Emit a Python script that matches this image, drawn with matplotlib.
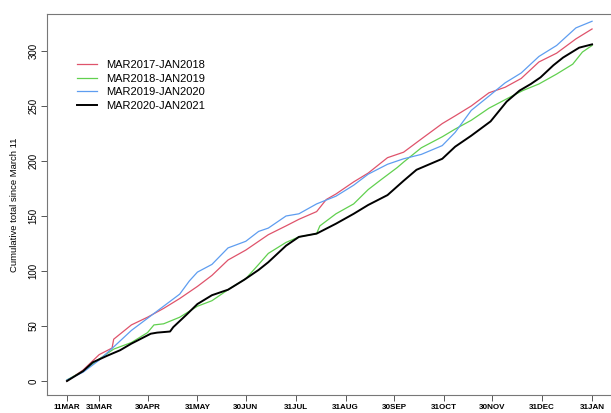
import matplotlib
matplotlib.use("Agg")
import matplotlib.pyplot as plt

plt.rcParams['font.family'] = ['Liberation Sans', 'DejaVu Sans']

# days since March 11 and cumulative totals
days_1718 = [0, 10, 20, 28, 29, 40, 50, 60, 70, 81, 90, 100, 111, 119, 125, 136, 144, 155, 161, 167,
             178, 187, 199, 209, 220, 233, 241, 251, 262, 272, 282, 293, 304, 316, 326]
vals_1718 = [0, 10, 24, 30, 38, 51, 58, 66, 75, 86, 96, 110, 119, 127, 133, 141, 147, 154, 165, 170,
             181, 189, 203, 208, 220, 234, 241, 250, 262, 267, 275, 290, 298, 311, 320]

days_1819 = [0, 10, 20, 29, 40, 50, 54, 60, 70, 81, 90, 100, 111, 119, 125, 136, 144, 155, 157, 167,
             178, 187, 195, 205, 209, 220, 233, 241, 251, 262, 275, 283, 293, 304, 314, 320, 326]
vals_1819 = [1, 9, 20, 29, 35, 44, 51, 52, 58, 68, 73, 83, 93, 106, 116, 126, 131, 134, 141, 152,
             161, 174, 183, 194, 199, 212, 222, 229, 237, 248, 258, 264, 270, 279, 288, 299, 305]

days_1920 = [0, 10, 20, 29, 40, 50, 60, 70, 76, 81, 90, 100, 111, 119, 125, 136, 144, 155, 167,
             178, 187, 199, 209, 220, 233, 241, 251, 262, 272, 282, 293, 304, 316, 326]
vals_1920 = [1, 8, 19, 31, 46, 57, 68, 79, 91, 99, 106, 121, 127, 136, 139, 150, 152, 161, 168,
             178, 188, 197, 202, 206, 214, 226, 246, 259, 271, 280, 295, 305, 321, 327]

days_2021 = [0, 10, 16, 25, 33, 40, 52, 56, 64, 66, 74, 81, 90, 100, 110, 119, 125, 136, 144, 155, 167,
             178, 187, 199, 209, 217, 233, 241, 251, 263, 273, 281, 288, 294, 302, 308, 318, 326]
vals_2021 = [0, 9, 17, 23, 28, 34, 43, 44, 45, 49, 60, 70, 78, 83, 92, 101, 108, 123, 131, 134, 143,
             152, 160, 169, 182, 192, 202, 213, 223, 236, 254, 264, 270, 276, 287, 294, 303, 306]

tick_days = [0, 20, 50, 81, 111, 142, 173, 203, 234, 264, 295, 326]
tick_labels = ['11MAR', '31MAR', '30APR', '31MAY', '30JUN', '31JUL',
               '31AUG', '30SEP', '31OCT', '30NOV', '31DEC', '31JAN']

fig = plt.figure(figsize=(6.11, 4.13), dpi=100)
ax = fig.add_axes([47 / 611, 18 / 413, 566 / 611, 381 / 413])

ax.plot(days_1718, vals_1718, color='#DF536B', lw=0.9, label='MAR2017-JAN2018')
ax.plot(days_1819, vals_1819, color='#61D04F', lw=0.9, label='MAR2018-JAN2019')
ax.plot(days_1920, vals_1920, color='#5E9DF0', lw=0.9, label='MAR2019-JAN2020')
ax.plot(days_2021, vals_2021, color='black', lw=1.4, label='MAR2020-JAN2021')

ax.set_xlim(-12.4, 339)
ax.set_ylim(-12.7, 333.6)

ax.set_xticks(tick_days)
ax.set_xticklabels(tick_labels, fontsize=5.8, fontweight='bold')
ax.set_yticks([0, 50, 100, 150, 200, 250, 300])
ax.set_yticklabels(['0', '50', '100', '150', '200', '250', '300'], rotation=90, va='center', fontsize=7)
ax.tick_params(direction='out', length=4, color='#555555', width=0.7, pad=2)
ax.tick_params(axis='x', pad=2.5)
ax.set_ylabel('Cumulative total since March 11', fontsize=6.8, labelpad=7)

for s in ax.spines.values():
    s.set_color('#777777')
    s.set_linewidth(0.8)

ax.legend(loc='upper left', bbox_to_anchor=(0.035, 0.905), frameon=False, fontsize=8,
          handlelength=1.8, handletextpad=0.8, labelspacing=0.32)

fig.savefig('out.png', dpi=100)
